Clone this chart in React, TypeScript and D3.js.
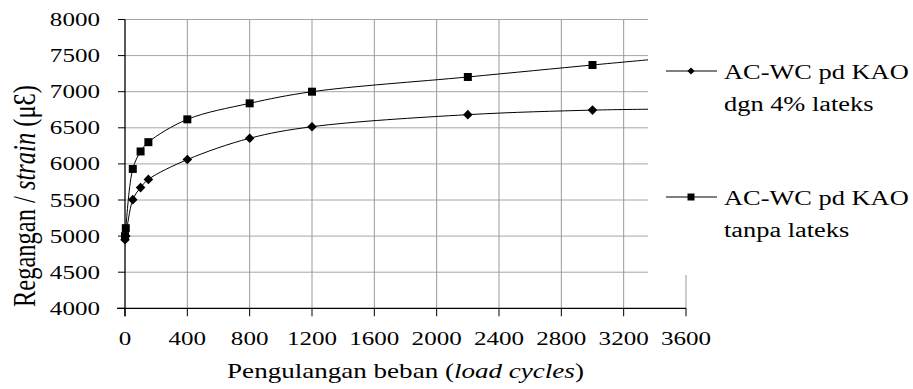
import React from 'react';
import * as d3 from 'd3';

const xTicks = [0, 400, 800, 1200, 1600, 2000, 2400, 2800, 3200, 3600];
const yTicks = [4000, 4500, 5000, 5500, 6000, 6500, 7000, 7500, 8000];

const cyclesLatex = [0, 5, 50, 100, 150, 400, 800, 1200, 2200, 3000, 3400];
const strainLatex = [4950, 5000, 5505, 5672, 5785, 6060, 6355, 6515, 6682, 6745, 6758];

const cyclesPlain = [0, 5, 50, 100, 150, 400, 800, 1200, 2200, 3000, 3400];
const strainPlain = [5000, 5110, 5930, 6172, 6301, 6617, 6839, 7000, 7204, 7370, 7450];

const legendLatex = ['AC-WC pd KAO', 'dgn 4% lateks'];
const legendPlain = ['AC-WC pd KAO', 'tanpa lateks'];

const xTitle = ['Pengulangan beban (', 'load cycles', ')'];
const yTitle = ['Regangan / ', 'strain', ' (\u03BC\u0190)'];

const W = 913;
const H = 389;
const SX = 1.32;
const FONT = "'Liberation Serif', 'Times New Roman', serif";

const diamond = (r: number) => `M0,${-r}L${r},0L0,${r}L${-r},0Z`;
const square = (r: number) => `M${-r},${-r}H${r}V${r}H${-r}Z`;

export default function App() {
  const x = d3.scaleLinear().domain([0, 3600]).range([125, 686]);
  const y = d3.scaleLinear().domain([4000, 8000]).range([308.3, 19.5]);

  const line = d3
    .line<[number, number]>()
    .x((d) => x(d[0]))
    .y((d) => y(d[1]))
    .curve(d3.curveCatmullRom.alpha(0.5));

  const latex: [number, number][] = cyclesLatex.map((c, i) => [c, strainLatex[i]]);
  const plain: [number, number][] = cyclesPlain.map((c, i) => [c, strainPlain[i]]);

  const legendLeft = 648;
  const legendBottom = 275;

  return (
    <svg
      width={W}
      height={H}
      viewBox={`0 0 ${W} ${H}`}
      style={{ position: 'absolute', left: 0, top: 0, background: '#fff' }}
      fontFamily={FONT}
    >
      <rect x={0} y={0} width={W} height={H} fill="#fff" />
      {/* gridlines */}
      {yTicks.slice(1).map((t) => (
        <line key={'hy' + t} x1={x(0)} x2={x(3600)} y1={y(t)} y2={y(t)} stroke="#a6a6a6" strokeWidth={1} />
      ))}
      {xTicks.slice(1).map((t) => (
        <line key={'vx' + t} x1={x(t)} x2={x(t)} y1={y(8000)} y2={y(4000)} stroke="#999" strokeWidth={1} />
      ))}
      {/* series */}
      <path d={line(plain) || ''} fill="none" stroke="#000" strokeWidth={1} />
      <path d={line(latex) || ''} fill="none" stroke="#000" strokeWidth={1} />
      {plain.map((d, i) => (
        <path key={'sq' + i} d={square(4)} transform={`translate(${x(d[0])},${y(d[1])})`} fill="#000" />
      ))}
      {latex.map((d, i) => (
        <path key={'dm' + i} d={diamond(4.8)} transform={`translate(${x(d[0])},${y(d[1])})`} fill="#000" />
      ))}
      {/* axes */}
      <line x1={x(0)} x2={x(0)} y1={y(8000)} y2={y(4000) + 8} stroke="#000" strokeWidth={1.3} />
      <line x1={x(0) - 8} x2={x(3600)} y1={y(4000)} y2={y(4000)} stroke="#000" strokeWidth={1.3} />
      {yTicks.map((t) => (
        <line key={'yt' + t} x1={x(0) - 7} x2={x(0)} y1={y(t)} y2={y(t)} stroke="#000" strokeWidth={1} />
      ))}
      {xTicks.map((t) => (
        <line key={'xt' + t} x1={x(t)} x2={x(t)} y1={y(4000)} y2={y(4000) + 8} stroke="#000" strokeWidth={1} />
      ))}
      {yTicks.map((t) => (
        <text
          key={'yl' + t}
          transform={`translate(100,${y(t) + 6.5}) scale(${SX},1)`}
          textAnchor="end"
          fontSize={19}
          fill="#000"
        >
          {t}
        </text>
      ))}
      {xTicks.map((t) => (
        <text
          key={'xl' + t}
          transform={`translate(${x(t)},345) scale(${SX},1)`}
          textAnchor="middle"
          fontSize={19}
          fill="#000"
        >
          {t}
        </text>
      ))}
      {/* axis titles */}
      <text transform={`translate(${x(1800)},378) scale(${SX},1)`} textAnchor="middle" fontSize={20.5} fill="#000">
        {xTitle[0]}
        <tspan fontStyle="italic">{xTitle[1]}</tspan>
        {xTitle[2]}
      </text>
      <text transform={`translate(35,196) scale(${SX},1) rotate(-90)`} textAnchor="middle" fontSize={24.5} fill="#000">
        {yTitle[0]}
        <tspan fontStyle="italic">{yTitle[1]}</tspan>
        {yTitle[2]}
      </text>
      {/* legend box (overlaps plot like the original) */}
      <rect x={legendLeft} y={0} width={W - legendLeft} height={legendBottom} fill="#fff" />
      <g>
        <line x1={666} x2={717} y1={71} y2={71} stroke="#000" strokeWidth={1} />
        <path d={diamond(3.6)} transform="translate(691,71)" fill="#000" />
        <text transform={`translate(724,79) scale(${SX},1)`} fontSize={20} fill="#000">{legendLatex[0]}</text>
        <text transform={`translate(724,111) scale(${SX},1)`} fontSize={20} fill="#000">{legendLatex[1]}</text>
      </g>
      <g>
        <line x1={666} x2={717} y1={197} y2={197} stroke="#000" strokeWidth={1} />
        <path d={square(3.5)} transform="translate(691,197)" fill="#000" />
        <text transform={`translate(724,205) scale(${SX},1)`} fontSize={20} fill="#000">{legendPlain[0]}</text>
        <text transform={`translate(724,237) scale(${SX},1)`} fontSize={20} fill="#000">{legendPlain[1]}</text>
      </g>
    </svg>
  );
}
